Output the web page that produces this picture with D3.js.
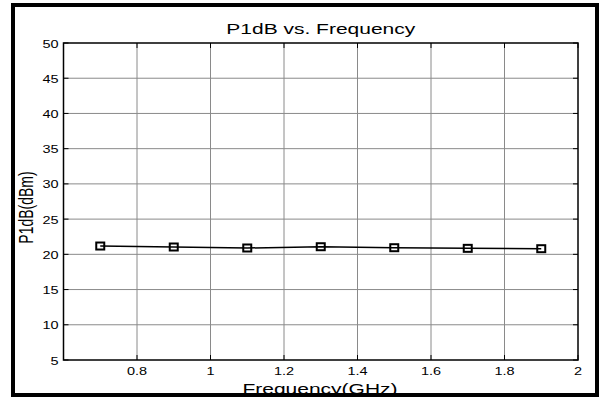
<!DOCTYPE html>
<html><head><meta charset="utf-8">
<script src="https://cdn.jsdelivr.net/npm/d3@7"></script>
<style>body{margin:0;background:#fff}svg{display:block}text{font-family:"Liberation Sans",Arial,sans-serif;fill:#000}</style>
</head><body>
<script>
const freqs = [0.7, 0.9, 1.1, 1.3, 1.5, 1.7, 1.9];
const p1db = [21.18, 21.04, 20.9, 21.08, 20.94, 20.85, 20.8];
const xTicks = [0.8, 1, 1.2, 1.4, 1.6, 1.8, 2];
const yTicks = [5, 10, 15, 20, 25, 30, 35, 40, 45, 50];
const title = "P1dB vs. Frequency";
const xLabel = "Frequency(GHz)";
const yLabel = "P1dB(dBm)";

const W = 599, H = 397;
const L = 63.5, R = 578, T = 43, B = 360;
const SX = 1.45;

const svg = d3.select("body").append("svg").attr("width", W).attr("height", H);
svg.append("rect").attr("width", W).attr("height", H).attr("fill", "#fff");

const x = d3.scaleLinear().domain([0.6, 2]).range([L, R]);
const y = d3.scaleLinear().domain([5, 50]).range([B, T]);

// grid
const g = svg.append("g");
g.selectAll(".gx").data(xTicks.filter(d => d < 2)).join("line")
  .attr("x1", d => x(d)).attr("x2", d => x(d)).attr("y1", T).attr("y2", B)
  .attr("stroke", "#8a8a8a").attr("stroke-width", 1);
g.selectAll(".gy").data(yTicks.filter(d => d > 5 && d < 50)).join("line")
  .attr("y1", d => y(d)).attr("y2", d => y(d)).attr("x1", L).attr("x2", R)
  .attr("stroke", "#8a8a8a").attr("stroke-width", 1);

// inward ticks on all sides
const tl = 5;
yTicks.forEach(v => {
  g.append("line").attr("x1", L).attr("x2", L + tl).attr("y1", y(v)).attr("y2", y(v)).attr("stroke", "#000");
  g.append("line").attr("x1", R - tl).attr("x2", R).attr("y1", y(v)).attr("y2", y(v)).attr("stroke", "#000");
});
xTicks.forEach(v => {
  g.append("line").attr("x1", x(v)).attr("x2", x(v)).attr("y1", B).attr("y2", B - tl).attr("stroke", "#000");
  g.append("line").attr("x1", x(v)).attr("x2", x(v)).attr("y1", T).attr("y2", T + tl).attr("stroke", "#000");
});

// box
svg.append("rect").attr("x", L).attr("y", T).attr("width", R - L).attr("height", B - T)
  .attr("fill", "none").attr("stroke", "#000").attr("stroke-width", 1.5);

function stext(px, py, txt, size, anchor, rot) {
  const t = svg.append("text")
    .attr("transform", `translate(${px},${py}) ${rot ? "rotate(-90) scale(1," + 1.5 + ")" : "scale(" + (size >= 14 ? 1.5 : SX) + ",1)"}`)
    .attr("font-size", size).attr("text-anchor", anchor).text(txt);
  return t;
}

// tick labels
yTicks.forEach(v => stext(58.5, y(v) + 4.5, String(v), 10, "end"));
xTicks.forEach(v => stext(x(v), 375, String(v), 10, "middle"));

// title and axis labels
stext((L + R) / 2, 34, title, 14, "middle");
stext(320, 394, xLabel, 14, "middle");
stext(32.5, 207.5, yLabel, 14, "middle", true);

// data line
const line = d3.line().x((d, i) => x(freqs[i])).y(d => y(d));
svg.append("path").datum(p1db).attr("d", line).attr("fill", "none")
  .attr("stroke", "#000").attr("stroke-width", 1.5);
svg.selectAll(".m").data(p1db).join("rect")
  .attr("x", (d, i) => x(freqs[i]) - 4).attr("y", d => y(d) - 3.5)
  .attr("width", 8).attr("height", 7)
  .attr("fill", "none").attr("stroke", "#000").attr("stroke-width", 2);

// outer frame
svg.append("rect").attr("x", 13).attr("y", 5).attr("width", 584).attr("height", 390)
  .attr("fill", "none").attr("stroke", "#000").attr("stroke-width", 4);
</script>
</body></html>
